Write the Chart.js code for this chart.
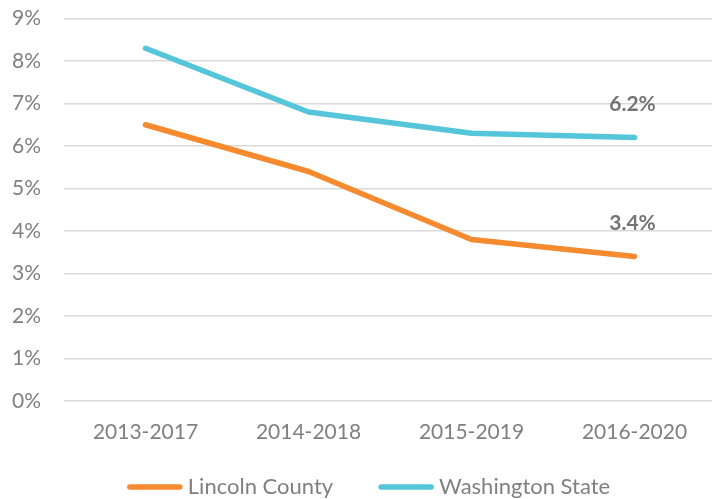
<!DOCTYPE html>
<html>
<head>
<meta charset="utf-8">
<script src="https://cdn.jsdelivr.net/npm/chart.js@4/dist/chart.umd.min.js"></script>
<style>
    html, body { margin: 0; padding: 0; background: #ffffff; overflow: hidden; }
    #wrap { width: 716px; height: 499px; }
</style>
</head>
<body>
<div id="wrap"><canvas id="chart"></canvas></div>
<script>
// chart data
const periods = ["2013-2017", "2014-2018", "2015-2019", "2016-2020"];
const lincolnCounty = [6.5, 5.4, 3.8, 3.4];
const washingtonState = [8.3, 6.8, 6.3, 6.2];
const seriesNames = ["Lincoln County", "Washington State"];

const FONT = "Lato, 'Open Sans', sans-serif";
const TEXT_GREY = "#808080";

/**
 * writes the value above the last point of every line
 */
const lastValueLabels = {
    id: "lastValueLabels",
    afterDatasetsDraw(chart) {
        let ctx = chart.ctx;
        ctx.save();
        ctx.font = "bold 21px " + FONT;
        ctx.fillStyle = "#747474";
        ctx.textAlign = "center";
        ctx.textBaseline = "middle";
        chart.data.datasets.forEach((ds, i) => {
            let meta = chart.getDatasetMeta(i);
            let last = meta.data[meta.data.length - 1];
            let value = ds.data[ds.data.length - 1];
            ctx.fillText(value.toFixed(1) + "%", last.x - 2, last.y - 33);
        });
        ctx.restore();
    }
};

/**
 * legend at the bottom: a short thick line followed by the series name
 */
const lineLegend = {
    id: "lineLegend",
    afterDraw(chart) {
        let ctx = chart.ctx;
        let lineLen = 50, gap = 8, between = 48, center = 370, y = 487;
        ctx.save();
        ctx.font = "22px " + FONT;
        let items = chart.data.datasets.map(ds => ({
            label: ds.label,
            color: ds.borderColor,
            width: lineLen + gap + ctx.measureText(ds.label).width
        }));
        let total = items.reduce((s, it) => s + it.width, 0) + between * (items.length - 1);
        let x = center - total / 2;
        items.forEach(it => {
            ctx.strokeStyle = it.color;
            ctx.lineWidth = 5.5;
            ctx.lineCap = "round";
            ctx.beginPath();
            ctx.moveTo(x, y);
            ctx.lineTo(x + lineLen, y);
            ctx.stroke();
            ctx.fillStyle = TEXT_GREY;
            ctx.textAlign = "left";
            ctx.textBaseline = "middle";
            ctx.fillText(it.label, x + lineLen + gap, y);
            x += it.width + between;
        });
        ctx.restore();
    }
};

new Chart(document.getElementById("chart"), {
    type: "line",
    data: {
        labels: periods,
        datasets: [
            {
                label: seriesNames[0],
                data: lincolnCounty,
                borderColor: "#F58A2E",
                backgroundColor: "#F58A2E",
                borderWidth: 5.5,
                borderCapStyle: "round",
                borderJoinStyle: "round",
                pointRadius: 0,
                tension: 0
            },
            {
                label: seriesNames[1],
                data: washingtonState,
                borderColor: "#55C5D9",
                backgroundColor: "#55C5D9",
                borderWidth: 5.5,
                borderCapStyle: "round",
                borderJoinStyle: "round",
                pointRadius: 0,
                tension: 0
            }
        ]
    },
    options: {
        responsive: true,
        maintainAspectRatio: false,
        animation: false,
        layout: {
            padding: {top: 18.5, right: 0, bottom: 48, left: 0}
        },
        plugins: {
            legend: {display: false},
            tooltip: {enabled: false}
        },
        scales: {
            x: {
                offset: true,
                afterFit(scale) {
                    scale.height = 50;
                },
                grid: {display: false, drawTicks: false},
                border: {display: false},
                ticks: {
                    color: TEXT_GREY,
                    font: {family: FONT, size: 21},
                    padding: 19,
                    maxRotation: 0
                }
            },
            y: {
                min: 0,
                max: 9,
                afterFit(scale) {
                    scale.width = 64;
                    scale.paddingTop = 0;
                    scale.paddingBottom = 0;
                },
                grid: {
                    color: "#D9D9D9",
                    lineWidth: 1.5,
                    drawTicks: false
                },
                border: {display: false},
                ticks: {
                    stepSize: 1,
                    color: TEXT_GREY,
                    font: {family: FONT, size: 21},
                    padding: 23,
                    callback: v => v + "%"
                }
            }
        }
    },
    plugins: [lastValueLabels, lineLegend]
});
</script>
</body>
</html>
